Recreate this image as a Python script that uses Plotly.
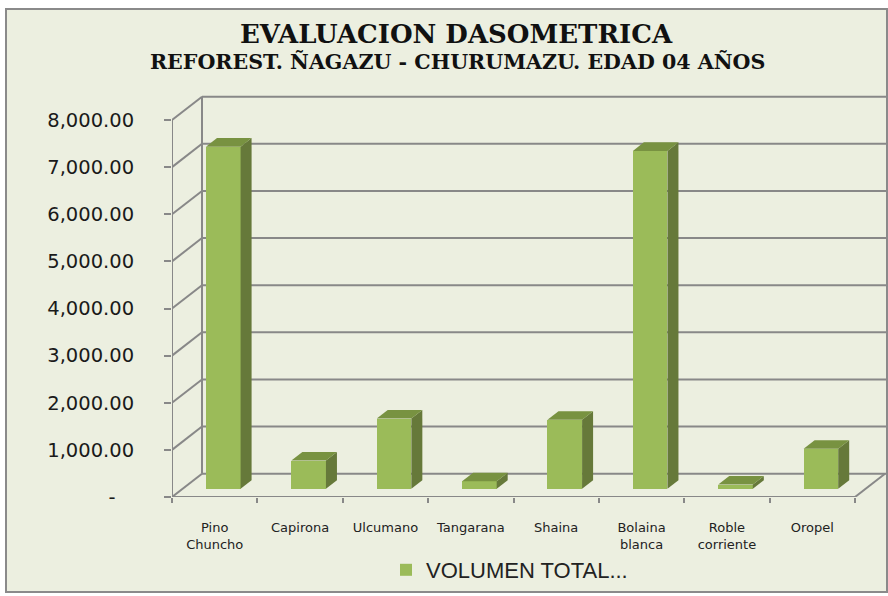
import plotly.graph_objects as go

# ---------------- data ----------------
categories = ["Pino Chuncho", "Capirona", "Ulcumano", "Tangarana", "Shaina",
              "Bolaina blanca", "Roble corriente", "Oropel"]
tick_labels = ["Pino<br>Chuncho", "Capirona", "Ulcumano", "Tangarana", "Shaina",
               "Bolaina<br>blanca", "Roble<br>corriente", "Oropel"]
volumen_total = [7260, 600, 1490, 160, 1465, 7170, 90, 850]
y_ticks = [0, 1000, 2000, 3000, 4000, 5000, 6000, 7000, 8000]
series_name = "VOLUMEN TOTAL..."

# ---------------- geometry (pixel based layout) ----------------
W, H = 888, 596
ML, MR, MT, MB = 172, 0, 90, 99
PW, PH = W - ML - MR, H - MT - MB
CW = 85.375            # px per category on the front plane
PX_PER_UNIT = 0.047125 # px per value unit
X0 = -0.5
XMAX = X0 + PW / CW
YMAX = PH / PX_PER_UNIT
XR = X0 + 714 / CW     # right end of back wall

DX, DY = 30 / CW, 23.3 / PX_PER_UNIT       # full depth of floor / walls
BX, BY = 8.6 / CW, 8.2 / PX_PER_UNIT       # bar front plane offset
BW = 34.6 / CW                              # bar width
SX, SY = 11 / CW, 8.6 / PX_PER_UNIT         # bar depth

FRONT = "#9BBB59"
SIDE = "#66793A"
TOP = "#789241"
GRID = "#888888"
BG = "#ECEFE0"

idx = list(range(len(categories)))

fig = go.Figure()
fig.add_trace(go.Bar(
    x=idx, y=volumen_total, width=BW, name=series_name,
    marker=dict(color=FRONT, line=dict(width=0)),
    xaxis="x2", yaxis="y2", showlegend=True, hoverinfo="skip"))

hw = BW / 2
for i, v in zip(idx, volumen_total):
    # side face
    fig.add_trace(go.Scatter(
        x=[i + hw, i + hw + SX, i + hw + SX, i + hw, i + hw],
        y=[0, SY, v + SY, v, 0],
        fill="toself", fillcolor=SIDE, mode="lines", line=dict(width=0),
        xaxis="x2", yaxis="y2", showlegend=False, hoverinfo="skip"))
    # top face
    fig.add_trace(go.Scatter(
        x=[i - hw, i + hw, i + hw + SX, i - hw + SX, i - hw],
        y=[v, v, v + SY, v + SY, v],
        fill="toself", fillcolor=TOP, mode="lines", line=dict(width=0),
        xaxis="x2", yaxis="y2", showlegend=False, hoverinfo="skip"))

shapes = []
def px_x(p):
    return (p - ML) / PW
def px_y(p):
    return (H - MB - p) / PH

# chart area background + border
shapes.append(dict(type="rect", xref="paper", yref="paper",
                   x0=px_x(6), x1=px_x(887), y0=px_y(592), y1=px_y(9),
                   fillcolor=BG, line=dict(color="#8A8A8A", width=2), layer="below"))

ln = dict(color=GRID, width=2)
for t in y_ticks:
    shapes.append(dict(type="line", xref="x", yref="y", x0=X0, y0=t,
                       x1=X0 + DX, y1=t + DY, line=ln, layer="below"))
    shapes.append(dict(type="line", xref="x", yref="y", x0=X0 + DX, y0=t + DY,
                       x1=XR, y1=t + DY, line=ln, layer="below"))
shapes.append(dict(type="line", xref="x", yref="y", x0=X0, y0=0, x1=X0, y1=y_ticks[-1],
                   line=ln, layer="below"))
shapes.append(dict(type="line", xref="x", yref="y", x0=X0 + DX, y0=DY, x1=X0 + DX,
                   y1=y_ticks[-1] + DY, line=ln, layer="below"))
n = len(categories)
shapes.append(dict(type="line", xref="x", yref="y", x0=X0, y0=0, x1=X0 + n, y1=0,
                   line=ln, layer="below"))
shapes.append(dict(type="line", xref="x", yref="y", x0=X0 + n, y0=0, x1=X0 + n + DX, y1=DY,
                   line=ln, layer="below"))

y_text = [("-\u00a0\u00a0\u00a0" if t == 0 else f"{t:,.2f}") for t in y_ticks]

annotations = [
    dict(text="<b>EVALUACION DASOMETRICA</b>", xref="paper", yref="paper",
         x=px_x(456), y=px_y(34), xanchor="center", yanchor="middle", showarrow=False,
         font=dict(family="DejaVu Serif", size=26, color="#111111")),
    dict(text="<b>REFOREST. ÑAGAZU - CHURUMAZU. EDAD 04 AÑOS</b>", xref="paper", yref="paper",
         x=px_x(457), y=px_y(62), xanchor="center", yanchor="middle", showarrow=False,
         font=dict(family="DejaVu Serif", size=20.6, color="#111111")),
]

fig.update_layout(
    width=W, height=H,
    margin=dict(l=ML, r=MR, t=MT, b=MB, pad=0),
    paper_bgcolor="white", plot_bgcolor="rgba(0,0,0,0)",
    shapes=shapes, annotations=annotations,
    bargap=0,
    xaxis=dict(range=[X0, XMAX], tickmode="array", tickvals=idx, ticktext=tick_labels,
               ticks="", showgrid=False, zeroline=False, showline=False,
               tickfont=dict(family="DejaVu Sans", size=13, color="#222222"),
               ticklabelstandoff=21,
               minor=dict(tickmode="array", tickvals=[X0 + k for k in range(n + 1)],
                          ticks="outside", ticklen=5, tickwidth=2, tickcolor=GRID,
                          showgrid=False)),
    yaxis=dict(range=[0, YMAX], tickmode="array", tickvals=y_ticks, ticktext=y_text,
               ticks="outside", ticklen=7, tickwidth=2, tickcolor=GRID,
               showgrid=False, zeroline=False, showline=False,
               tickfont=dict(family="DejaVu Sans", size=19.5, color="#1a1a1a"),
               ticklabelstandoff=26),
    xaxis2=dict(overlaying="x", anchor="y2", range=[X0 - BX, XMAX - BX], visible=False),
    yaxis2=dict(overlaying="y", anchor="x2", range=[-BY, YMAX - BY], visible=False),
    showlegend=True,
    legend=dict(orientation="h", x=px_x(386), y=px_y(570), xanchor="left", yanchor="middle",
                bgcolor="rgba(0,0,0,0)",
                font=dict(family="Liberation Sans", size=22, color="#222222")),
)

fig.write_html("out.html", config={"displayModeBar": False},
               post_script="document.body.style.margin='0';document.body.style.overflow='hidden';")
